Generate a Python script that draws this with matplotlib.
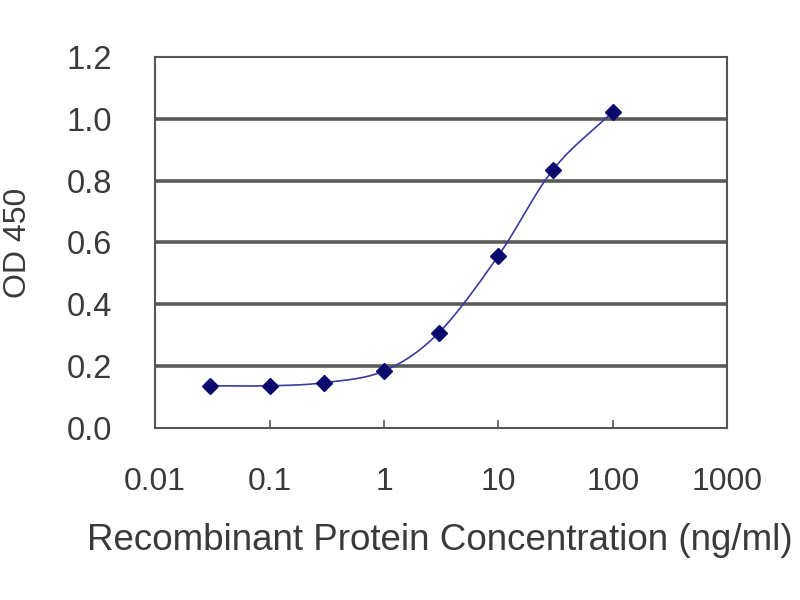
import numpy as np
import matplotlib.pyplot as plt

# ELISA standard curve values
conc = [0.03, 0.1, 0.3, 1, 3, 10, 30, 100]
od450 = [0.136, 0.136, 0.146, 0.184, 0.307, 0.557, 0.835, 1.023]
xtick_vals = [0.01, 0.1, 1, 10, 100, 1000]
xtick_labels = ['0.01', '0.1', '1', '10', '100', '1000']
ytick_vals = [0.0, 0.2, 0.4, 0.6, 0.8, 1.0, 1.2]

plt.rcParams['font.family'] = ['Liberation Sans', 'DejaVu Sans']
text_color = '#3a3a3a'


def smooth_curve(x, y, n=30):
    """Catmull-Rom spline through points (in log-x space), like Excel's smoothed line."""
    lx = np.log10(x)
    y = np.asarray(y, dtype=float)
    px = np.concatenate([[2 * lx[0] - lx[1]], lx, [2 * lx[-1] - lx[-2]]])
    py = np.concatenate([[2 * y[0] - y[1]], y, [2 * y[-1] - y[-2]]])
    xs, ys = [], []
    for i in range(1, len(px) - 2):
        t = np.linspace(0, 1, n)
        for arr, out in ((px, xs), (py, ys)):
            p0, p1, p2, p3 = arr[i - 1], arr[i], arr[i + 1], arr[i + 2]
            out.extend(0.5 * ((2 * p1) + (-p0 + p2) * t
                              + (2 * p0 - 5 * p1 + 4 * p2 - p3) * t ** 2
                              + (-p0 + 3 * p1 - 3 * p2 + p3) * t ** 3))
    return 10 ** np.array(xs), np.array(ys)


fig = plt.figure(figsize=(8, 6), dpi=100)
ax = fig.add_axes([0.194, 0.287, 0.715, 0.618])

ax.set_xscale('log')
ax.set_xlim(0.01, 1000)
ax.set_ylim(0, 1.2)

for yv in ytick_vals[1:-1]:
    ax.axhline(yv, color='#5a5a5a', linewidth=2.6, zorder=1)

sx, sy = smooth_curve(conc, od450)
ax.plot(sx, sy, color='#3a3aa0', linewidth=1.2, zorder=2)
ax.plot(conc, od450, linestyle='none', marker='D', markersize=8.5,
        color='#0a0a6e', zorder=3)

ax.set_xticks(xtick_vals)
ax.set_xticklabels(xtick_labels)
ax.xaxis.set_minor_locator(plt.NullLocator())
ax.set_yticks(ytick_vals)
ax.set_yticklabels([f'{v:.1f}' for v in ytick_vals])

ax.tick_params(axis='x', labelsize=23, colors='#555555', labelcolor=text_color,
               length=6, width=1.2, direction='in', pad=28)
ax.tick_params(axis='y', labelsize=23.5, colors='#555555', labelcolor=text_color,
               length=3, width=1.2, direction='in', pad=31)
for spine in ax.spines.values():
    spine.set_color('#555555')
    spine.set_linewidth(1.5)

ax.set_xlabel('Recombinant Protein Concentration (ng/ml)', fontsize=26.5,
              color=text_color)
ax.xaxis.set_label_coords(0.498, -0.258)
ax.set_ylabel('OD 450', fontsize=23, color=text_color)
ax.yaxis.set_label_coords(-0.213, 0.5)

fig.savefig('out.png', dpi=100, facecolor='white')
